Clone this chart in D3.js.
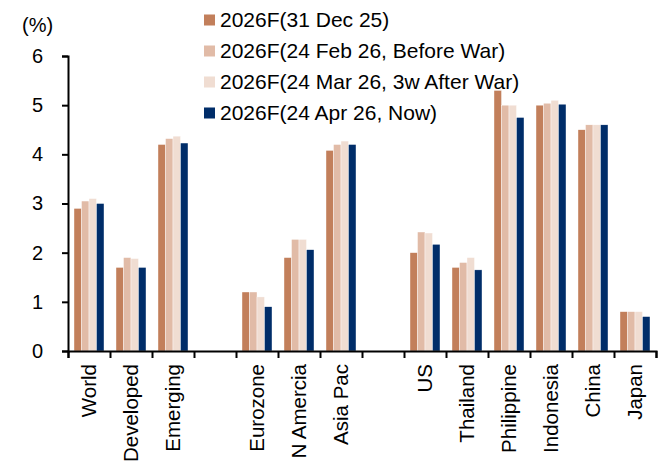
<!DOCTYPE html>
<html>
<head>
<meta charset="utf-8">
<script src="https://cdn.jsdelivr.net/npm/d3@7"></script>
<style>
  body { margin: 0; background: #fff; }
  svg text { font-family: Arial, "Liberation Sans", sans-serif; fill: #000; }
</style>
</head>
<body>
<div id="chart"></div>
<script>
(function(d3) {
  'use strict';

  // slots on the x axis; blank strings are the gaps between groups
  var categories = ['World', 'Developed', 'Emerging', '', 'Eurozone', 'N Amercia', 'Asia Pac', ' ',
    'US', 'Thailand', 'Philippine', 'Indonesia', 'China', 'Japan'];
  var seriesNames = ['2026F(31 Dec 25)', '2026F(24 Feb 26, Before War)',
    '2026F(24 Mar 26, 3w After War)', '2026F(24 Apr 26, Now)'];
  var seriesColors = ['#c27f5b', '#e1bba7', '#f0ddd2', '#002d69'];

  var dec25 = [2.9, 1.7, 4.2, null, 1.2, 1.9, 4.08, null, 2.0, 1.7, 5.3, 5.0, 4.5, 0.8];
  var feb26 = [3.05, 1.9, 4.32, null, 1.2, 2.27, 4.2, null, 2.42, 1.8, 5.0, 5.04, 4.6, 0.8];
  var mar26 = [3.1, 1.88, 4.37, null, 1.1, 2.27, 4.27, null, 2.4, 1.9, 5.0, 5.1, 4.6, 0.8];
  var apr26 = [3.0, 1.7, 4.23, null, 0.9, 2.06, 4.2, null, 2.17, 1.65, 4.75, 5.02, 4.6, 0.7];
  var yTicks = [0, 1, 2, 3, 4, 5, 6];

  var series = [dec25, feb26, mar26, apr26];

  var width = 669, height = 473;
  var left = 68, right = 656, top = 56, bottom = 351;

  var svg = d3.select('#chart').append('svg')
    .attr('width', width)
    .attr('height', height);

  var x = d3.scaleBand().domain(categories).range([left, right]);
  var inner = d3.scaleBand().domain(d3.range(series.length))
    .range([0, x.bandwidth()]).paddingOuter(0.8);
  var y = d3.scaleLinear().domain([0, 6]).range([bottom, top]);
  var slots = d3.scaleLinear().domain([0, categories.length]).range([left, right]);

  // bars
  var groups = svg.selectAll('g.grp').data(categories).enter().append('g')
    .attr('class', 'grp')
    .attr('transform', function(d) { return 'translate(' + x(d) + ',0)'; });

  groups.selectAll('rect')
    .data(function(d, i) {
      return series.map(function(s, k) { return { k: k, v: s[i] }; })
        .filter(function(p) { return p.v != null; });
    })
    .enter().append('rect')
    .attr('x', function(p) { return inner(p.k); })
    .attr('width', inner.bandwidth())
    .attr('y', function(p) { return y(p.v); })
    .attr('height', function(p) { return y(0) - y(p.v); })
    .attr('fill', function(p) { return seriesColors[p.k]; })
    .attr('stroke', '#fff')
    .attr('stroke-width', 0.4);

  // y axis
  var yAxis = svg.append('g')
    .attr('transform', 'translate(' + left + ',0)')
    .call(d3.axisLeft(y).tickValues(yTicks).tickSize(6).tickPadding(19).tickFormat(d3.format('d')));
  yAxis.selectAll('text').style('font-size', '20px');

  // x axis, ticks on slot boundaries
  svg.append('g')
    .attr('transform', 'translate(0,' + bottom + ')')
    .call(d3.axisBottom(slots).tickValues(d3.range(categories.length + 1)).tickSize(7).tickFormat(''));

  svg.selectAll('.domain').attr('stroke', '#000').attr('stroke-width', 2);
  svg.selectAll('.tick line').attr('stroke', '#000').attr('stroke-width', 2);

  // category labels
  svg.selectAll('text.cat').data(categories.filter(function(c) { return c.trim(); }))
    .enter().append('text')
    .attr('class', 'cat')
    .attr('transform', function(d) {
      return 'translate(' + (x(d) + x.bandwidth() / 2) + ',364) rotate(-90)';
    })
    .attr('text-anchor', 'end')
    .attr('dy', '0.35em')
    .style('font-size', '20.5px')
    .text(function(d) { return d; });

  // unit
  svg.append('text')
    .attr('x', 22)
    .attr('y', 25)
    .attr('dy', '0.35em')
    .style('font-size', '20px')
    .text('(%)');

  // legend
  var legend = svg.selectAll('g.leg').data(seriesNames).enter().append('g')
    .attr('class', 'leg')
    .attr('transform', function(d, i) { return 'translate(204,' + (20 + i * 31) + ')'; });
  legend.append('rect')
    .attr('x', 0).attr('y', -5.5)
    .attr('width', 11).attr('height', 11)
    .attr('fill', function(d, i) { return seriesColors[i]; });
  legend.append('text')
    .attr('x', 16)
    .attr('dy', '0.35em')
    .style('font-size', '21px')
    .text(function(d) { return d; });
}(d3));
</script>
</body>
</html>
